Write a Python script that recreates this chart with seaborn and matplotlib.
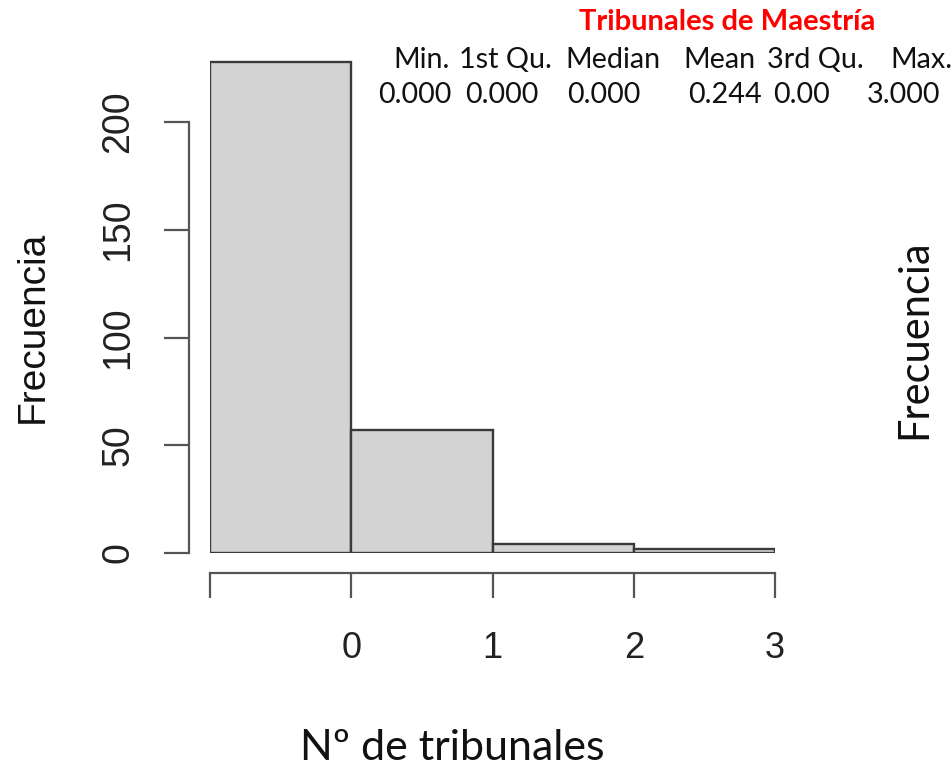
import numpy as np
import matplotlib
matplotlib.use("Agg")
import matplotlib.pyplot as plt
import seaborn as sns

# ---- data ----
bin_edges = [-1, 0, 1, 2, 3]
counts = [228, 57, 4, 2]
x_ticks = [-1, 0, 1, 2, 3]
x_tick_labels = ["", "0", "1", "2", "3"]
y_ticks = [0, 50, 100, 150, 200]
title = "Tribunales de Maestría"
stat_names = ["Min.", "1st Qu.", "Median", "Mean", "3rd Qu.", "Max."]
stat_values = ["0.000", "0.000", "0.000", "0.244", "0.00", "3.000"]
x_label = "Nº de tribunales"
y_label = "Frecuencia"

sns.set_style("white")
plt.rcParams["font.family"] = ["Liberation Sans", "DejaVu Sans"]

W, H = 951, 766
fig = plt.figure(figsize=(W / 100, H / 100), dpi=100)

def px(x, y):
    return x / W, 1 - y / H

ymax = 232
unit = (553 - 122) / 200.0
left, bottom = px(210, 553)
ax = fig.add_axes([left, bottom, (775 - 210) / W, ymax * unit / H])

centers = [(bin_edges[i] + bin_edges[i + 1]) / 2 for i in range(len(counts))]
sns.histplot(x=centers, weights=counts, bins=bin_edges, ax=ax,
             color="#d3d3d3", edgecolor="#3a3a3a", linewidth=1.7, alpha=1)

ax.set_xlim(-1, 3)
ax.set_ylim(0, ymax)
ax.set_xlabel("")
ax.set_ylabel("")
for s in ["top", "right"]:
    ax.spines[s].set_visible(False)
ax.spines["left"].set_position(("outward", 15))
ax.spines["bottom"].set_position(("outward", 14.4))
ax.spines["left"].set_bounds(0, 200)
ax.spines["bottom"].set_bounds(-1, 3)
for s in ["left", "bottom"]:
    ax.spines[s].set_color("#555555")
    ax.spines[s].set_linewidth(1.6)
ax.set_xticks(x_ticks)
ax.set_xticklabels(x_tick_labels)
ax.set_yticks(y_ticks)
ax.set_yticklabels([str(v) for v in y_ticks])
ax.tick_params(axis="both", direction="out", length=18, width=1.6, color="#555555",
               labelcolor="#222222", bottom=True, left=True)
ax.tick_params(axis="x", pad=24, labelsize=26)
ax.tick_params(axis="y", pad=20, labelrotation=90, labelsize=27)
for lab in ax.get_yticklabels():
    lab.set_va("center")

calib = ["Lato", "DejaVu Sans"]

# y label (left, Arial-like)
fig.text(*px(43, 327), y_label, rotation=90, rotation_mode="anchor",
         ha="center", va="baseline", fontsize=28, color="#111111",
         family=["Liberation Sans", "DejaVu Sans"])
# y label (right, Calibri-like)
fig.text(*px(926, 339), y_label, rotation=90, rotation_mode="anchor",
         ha="center", va="baseline", fontsize=30, color="#111111", family=calib)
# x label
fig.text(*px(452, 760), x_label, ha="center", va="baseline", fontsize=31,
         color="#111111", family=calib)
# title
fig.text(*px(727, 30), title, ha="center", va="baseline", fontsize=21,
         fontweight="bold", color="#ff0000", family=calib)

name_x = [393, 459, 565, 683, 767, 890]
val_x = [378, 465, 567, 688, 773, 867]
for nx, n in zip(name_x, stat_names):
    fig.text(*px(nx, 68), n, ha="left", va="baseline", fontsize=20.7,
             color="#111111", family=calib)
for vx, v in zip(val_x, stat_values):
    fig.text(*px(vx, 103), v, ha="left", va="baseline", fontsize=20.7,
             color="#111111", family=calib)

fig.savefig("out.png", dpi=100, facecolor="white")
